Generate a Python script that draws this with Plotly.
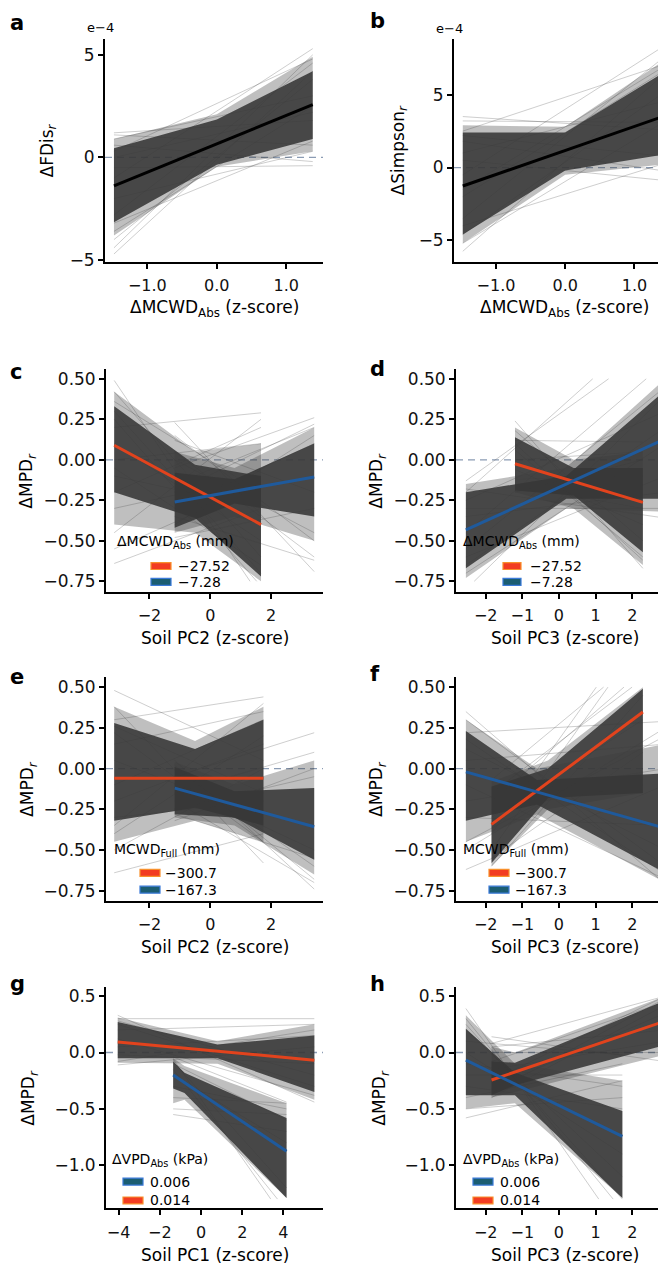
import plotly.graph_objects as go

W, H = 666, 1267
FONT = "DejaVu Sans"
RED = "#e2431d"
BLUE = "#1f5a9c"
BLACK = "#000000"

# ---------------- data ----------------
# Each group: line span (x), mean line ends (y), pivot x of the draw envelope,
# dense core (hi/lo at left, pivot, right), medium-density halo, light single draws.

# Panel a: dFDis_r (x 1e-4) vs dMCWD_Abs (z-score)
a_span = [-1.48, 1.38]
a_mean = [-1.38, 2.57]
a_xp = 0.0
a_core_hi = [0.45, 1.85, 4.2]
a_core_lo = [-3.15, -0.35, 0.9]
a_halo_hi = [0.9, 2.1, 4.9]
a_halo_lo = [-3.8, -0.45, 0.3]
a_draw_l = [1.2, 1.1, 0.9, 0.6, 0.3, -0.5, -1.0, -2.0, -2.8, -3.6, -4.0, -4.4, -4.7, -3.2, 0.0]
a_draw_r = [1.8, 0.6, 3.0, -0.2, 4.8, -0.4, 5.3, 0.3, 4.6, 2.5, 3.8, 5.0, 4.2, 0.8, 2.2]

# Panel b: dSimpson_r (x 1e-4) vs dMCWD_Abs (z-score)
b_span = [-1.48, 1.38]
b_mean = [-1.27, 3.45]
b_xp = 0.0
b_core_hi = [2.4, 2.4, 6.4]
b_core_lo = [-4.6, -0.2, 0.85]
b_halo_hi = [2.9, 2.8, 7.2]
b_halo_lo = [-5.2, -0.5, 0.2]
b_draw_l = [3.5, 3.2, 2.5, 1.8, 0.5, -0.5, -2.0, -3.5, -4.6, -5.2, -5.75, -4.0, 1.0, 2.2, -1.5]
b_draw_r = [2.6, 3.1, 7.0, -0.2, -0.86, 8.2, 6.5, 7.4, 5.0, 3.0, 6.2, 0.2, 4.5, 0.8, 6.8]

# Panel c: dMPD_r vs Soil PC2, dMCWD_Abs = -27.52 (red) / -7.28 (blue)
c_red_span = [-3.16, 1.67]
c_red_mean = [0.09, -0.40]
c_red_xp = -0.5
c_red_hi = [0.33, -0.03, -0.10]
c_red_lo = [-0.20, -0.36, -0.72]
c_red_halo_hi = [0.42, 0.05, 0.10]
c_red_halo_lo = [-0.40, -0.45, -0.75]
c_red_draw_l = [0.49, 0.42, 0.36, 0.30, 0.20, 0.10, 0.0, -0.10, -0.20, -0.30, -0.45, -0.55, -0.64, 0.25, -0.05]
c_red_draw_r = [-0.85, -0.60, -0.20, -0.70, 0.29, -0.50, 0.10, -0.30, 0.20, -0.10, 0.25, -0.15, -0.30, -0.78, -0.65]
c_blue_span = [-1.17, 3.42]
c_blue_mean = [-0.26, -0.106]
c_blue_xp = 0.8
c_blue_hi = [-0.08, -0.12, 0.10]
c_blue_lo = [-0.42, -0.27, -0.35]
c_blue_halo_hi = [0.05, -0.05, 0.20]
c_blue_halo_lo = [-0.45, -0.35, -0.50]
c_blue_draw_l = [0.23, 0.15, 0.05, -0.05, -0.15, -0.30, -0.40, -0.48, 0.0, -0.20, 0.12, -0.35]
c_blue_draw_r = [-0.69, -0.50, -0.60, 0.26, 0.20, 0.10, 0.15, -0.30, -0.45, 0.22, -0.20, -0.62]

# Panel d: dMPD_r vs Soil PC3, dMCWD_Abs
d_red_span = [-1.20, 2.29]
d_red_mean = [-0.024, -0.263]
d_red_xp = 0.4
d_red_hi = [0.14, -0.05, -0.05]
d_red_lo = [-0.19, -0.22, -0.57]
d_red_halo_hi = [0.20, 0.0, 0.05]
d_red_halo_lo = [-0.20, -0.30, -0.65]
d_red_draw_l = [0.24, 0.18, 0.12, 0.06, 0.0, -0.06, -0.12, -0.20, 0.10, -0.16]
d_red_draw_r = [-0.67, -0.50, 0.11, -0.60, 0.05, -0.40, -0.10, 0.0, -0.62, -0.30]
d_blue_span = [-2.54, 2.90]
d_blue_mean = [-0.433, 0.129]
d_blue_xp = 0.2
d_blue_hi = [-0.20, -0.10, 0.43]
d_blue_lo = [-0.67, -0.24, -0.24]
d_blue_halo_hi = [-0.15, -0.05, 0.50]
d_blue_halo_lo = [-0.73, -0.30, -0.32]
d_blue_draw_l = [-0.13, -0.18, -0.25, -0.35, -0.45, -0.55, -0.65, -0.80, -0.70, -0.30, -0.20, -0.60]
d_blue_draw_r = [0.75, -0.36, 0.30, -0.20, 0.60, 0.45, 0.20, 0.40, 0.10, -0.30, 0.90, -0.10]

# Panel e: dMPD_r vs Soil PC2, MCWD_Full = -300.7 (red) / -167.3 (blue)
e_red_span = [-3.16, 1.75]
e_red_mean = [-0.06, -0.06]
e_red_xp = -0.5
e_red_hi = [0.28, 0.12, 0.30]
e_red_lo = [-0.32, -0.24, -0.35]
e_red_halo_hi = [0.38, 0.17, 0.38]
e_red_halo_lo = [-0.45, -0.32, -0.45]
e_red_draw_l = [0.48, 0.38, 0.30, 0.22, 0.15, 0.05, -0.10, -0.20, -0.30, -0.40, -0.50, -0.64, 0.26, -0.35]
e_red_draw_r = [0.05, -0.58, 0.44, -0.45, 0.35, -0.30, 0.30, 0.15, -0.20, 0.20, 0.0, -0.40, -0.15, 0.40]
e_blue_span = [-1.17, 3.42]
e_blue_mean = [-0.12, -0.357]
e_blue_xp = 0.8
e_blue_hi = [0.01, -0.14, -0.12]
e_blue_lo = [-0.28, -0.30, -0.56]
e_blue_halo_hi = [0.04, -0.10, 0.05]
e_blue_halo_lo = [-0.30, -0.35, -0.65]
e_blue_draw_l = [0.05, 0.0, -0.05, -0.10, -0.15, -0.20, -0.25, -0.32, -0.28, 0.02]
e_blue_draw_r = [-0.74, -0.60, 0.22, -0.50, 0.10, -0.70, -0.05, 0.0, -0.55, -0.68]

# Panel f: dMPD_r vs Soil PC3, MCWD_Full
f_red_span = [-1.84, 2.29]
f_red_mean = [-0.343, 0.347]
f_red_xp = -0.3
f_red_hi = [-0.11, 0.0, 0.49]
f_red_lo = [-0.58, -0.18, -0.15]
f_red_halo_hi = [-0.08, 0.05, 0.50]
f_red_halo_lo = [-0.60, -0.25, -0.15]
f_red_draw_l = [-0.07, -0.12, -0.20, -0.30, -0.40, -0.50, -0.60, -0.55, -0.25, -0.15]
f_red_draw_r = [0.70, -0.15, 0.60, 0.30, 0.90, 0.80, 0.45, 0.10, -0.10, 0.55]
f_blue_span = [-2.54, 2.90]
f_blue_mean = [-0.02, -0.367]
f_blue_xp = -0.6
f_blue_hi = [0.23, -0.07, -0.03]
f_blue_lo = [-0.32, -0.22, -0.64]
f_blue_halo_hi = [0.30, 0.0, 0.15]
f_blue_halo_lo = [-0.45, -0.28, -0.70]
f_blue_draw_l = [0.35, 0.30, 0.22, 0.12, 0.05, -0.10, -0.20, -0.30, -0.45, -0.62, 0.18, -0.50]
f_blue_draw_r = [-0.71, -0.60, 0.29, -0.50, 0.15, -0.68, 0.0, -0.35, 0.20, -0.10, -0.65, 0.25]

# Panel g: dMPD_r vs Soil PC1, dVPD_Abs = 0.006 (blue) / 0.014 (red)
g_red_span = [-4.04, 5.50]
g_red_mean = [0.094, -0.068]
g_red_xp = 0.8
g_red_hi = [0.27, 0.07, 0.15]
g_red_lo = [-0.05, -0.05, -0.35]
g_red_halo_hi = [0.31, 0.10, 0.25]
g_red_halo_lo = [-0.09, -0.10, -0.42]
g_red_draw_l = [0.33, 0.30, 0.25, 0.20, 0.12, 0.05, -0.02, -0.08, -0.11, 0.28]
g_red_draw_r = [-0.44, 0.30, -0.30, 0.25, -0.38, 0.15, -0.10, 0.20, 0.05, -0.20]
g_blue_span = [-1.35, 4.15]
g_blue_mean = [-0.20, -0.876]
g_blue_xp = -0.8
g_blue_hi = [-0.08, -0.18, -0.58]
g_blue_lo = [-0.32, -0.36, -1.29]
g_blue_halo_hi = [-0.05, -0.12, -0.45]
g_blue_halo_lo = [-0.45, -0.42, -1.29]
g_blue_draw_l = [-0.04, -0.06, -0.10, -0.15, -0.20, -0.30, -0.40, -0.50, -0.55, -0.08]
g_blue_draw_r = [-0.44, -1.50, -0.60, -1.40, -0.80, -0.50, -0.45, -0.55, -0.70, -1.20]

# Panel h: dMPD_r vs Soil PC3, dVPD_Abs
h_red_span = [-1.84, 2.90]
h_red_mean = [-0.244, 0.279]
h_red_xp = -1.2
h_red_hi = [-0.08, -0.09, 0.46]
h_red_lo = [-0.38, -0.29, 0.065]
h_red_halo_hi = [0.05, 0.0, 0.50]
h_red_halo_lo = [-0.40, -0.35, -0.02]
h_red_draw_l = [0.14, 0.08, 0.0, -0.08, -0.15, -0.25, -0.32, -0.40, 0.05, -0.36]
h_red_draw_r = [-0.08, 0.50, 0.0, 0.45, 0.10, 0.50, 0.35, 0.42, 0.20, 0.48]
h_blue_span = [-2.54, 1.73]
h_blue_mean = [-0.068, -0.744]
h_blue_xp = -1.2
h_blue_hi = [0.21, -0.18, -0.52]
h_blue_lo = [-0.38, -0.38, -1.29]
h_blue_halo_hi = [0.33, -0.10, -0.25]
h_blue_halo_lo = [-0.50, -0.45, -1.29]
h_blue_draw_l = [0.39, 0.30, 0.20, 0.10, 0.0, -0.10, -0.20, -0.30, -0.40, -0.50, -0.58, 0.25]
h_blue_draw_r = [-1.60, -1.40, -1.10, -0.02, -0.90, -0.30, -0.20, -0.50, -0.10, -0.40, -0.25, -1.30]

# legend labels
leg_mcwd_abs = ["\u221227.52", "\u22127.28"]
leg_mcwd_full = ["\u2212300.7", "\u2212167.3"]
leg_vpd = ["0.006", "0.014"]

# ---------------- panel layout (pixel boxes) ----------------
M = "\u2212"
yt_mpd = [0.5, 0.25, 0.0, -0.25, -0.5, -0.75]
yt_mpd_txt = ["0.50", "0.25", "0.00", M + "0.25", M + "0.50", M + "0.75"]
yt_mpd2 = [0.5, 0.0, -0.5, -1.0]
yt_mpd2_txt = ["0.5", "0.0", M + "0.5", M + "1.0"]
xt_pc2 = [-2, 0, 2]
xt_pc2_txt = [M + "2", "0", "2"]
xt_pc3 = [-2, -1, 0, 1, 2, 3]
xt_pc3_txt = [M + "2", M + "1", "0", "1", "2", "3"]
xt_pc1 = [-4, -2, 0, 2, 4]
xt_pc1_txt = [M + "4", M + "2", "0", "2", "4"]
xt_z = [-1, 0, 1]
xt_z_txt = [M + "1.0", "0.0", "1.0"]

YT_MPD = "\u0394MPD<sub><i>r</i></sub>"
panels = [
    dict(letter="a", box=(97, 315, 30, 255), xr=[-1.609, 1.528], yr=[-5.10, 5.78],
         xt=xt_z, xtt=xt_z_txt, yt=[5, 0, -5], ytt=["5", "0", M + "5"],
         xtitle="\u0394MCWD<sub>Abs</sub> (z-score)", ytitle="\u0394FDis<sub><i>r</i></sub>",
         ytx=40, lim=None, expo=(93, 19), letpos=(0, 14)),
    dict(letter="b", box=(446, 666, 30, 255), xr=[-1.607, 1.572], yr=[-6.5, 8.84],
         xt=xt_z, xtt=xt_z_txt, yt=[5, 0, -5], ytt=["5", "0", M + "5"],
         xtitle="\u0394MCWD<sub>Abs</sub> (z-score)", ytitle="\u0394Simpson<sub><i>r</i></sub>",
         ytx=391, lim=None, expo=(441, 20), letpos=(360, 12)),
    dict(letter="c", box=(98, 315, 363, 587), xr=[-3.43, 3.71], yr=[-0.815, 0.558],
         xt=xt_pc2, xtt=xt_pc2_txt, yt=yt_mpd, ytt=yt_mpd_txt,
         xtitle="Soil PC2 (z-score)", ytitle=YT_MPD, ytx=20, lim=(-0.75, 0.5), letpos=(0, 366),
         leg=dict(title="\u0394MCWD<sub>Abs</sub> (mm)", tdx=9, tdy=-50, kx=(45, 65), ky=(-26, -10),
                  txx=70, items=[(RED, leg_mcwd_abs[0]), (BLUE, leg_mcwd_abs[1])])),
    dict(letter="d", box=(448, 666, 363, 587), xr=[-2.81, 3.14], yr=[-0.815, 0.558],
         xt=xt_pc3, xtt=xt_pc3_txt, yt=yt_mpd, ytt=yt_mpd_txt,
         xtitle="Soil PC3 (z-score)", ytitle=YT_MPD, ytx=370, lim=(-0.75, 0.5), letpos=(360, 363),
         leg=dict(title="\u0394MCWD<sub>Abs</sub> (mm)", tdx=5, tdy=-50, kx=(47, 65), ky=(-26, -10),
                  txx=72, items=[(RED, leg_mcwd_abs[0]), (BLUE, leg_mcwd_abs[1])])),
    dict(letter="e", box=(98, 315, 673, 898), xr=[-3.43, 3.71], yr=[-0.811, 0.561],
         xt=xt_pc2, xtt=xt_pc2_txt, yt=yt_mpd, ytt=yt_mpd_txt,
         xtitle="Soil PC2 (z-score)", ytitle=YT_MPD, ytx=21, lim=(-0.75, 0.5), letpos=(0, 673),
         leg=dict(title="MCWD<sub>Full</sub> (mm)", tdx=6, tdy=-51, kx=(34, 54), ky=(-28, -11),
                  txx=57, items=[(RED, leg_mcwd_full[0]), (BLUE, leg_mcwd_full[1])])),
    dict(letter="f", box=(448, 666, 673, 898), xr=[-2.81, 3.14], yr=[-0.811, 0.561],
         xt=xt_pc3, xtt=xt_pc3_txt, yt=yt_mpd, ytt=yt_mpd_txt,
         xtitle="Soil PC3 (z-score)", ytitle=YT_MPD, ytx=370, lim=(-0.75, 0.5), letpos=(360, 670),
         leg=dict(title="MCWD<sub>Full</sub> (mm)", tdx=5, tdy=-51, kx=(33, 53), ky=(-28, -11),
                  txx=57, items=[(RED, leg_mcwd_full[0]), (BLUE, leg_mcwd_full[1])])),
    dict(letter="g", box=(98, 315, 985, 1208), xr=[-4.61, 5.92], yr=[-1.383, 0.581],
         xt=xt_pc1, xtt=xt_pc1_txt, yt=yt_mpd2, ytt=yt_mpd2_txt,
         xtitle="Soil PC1 (z-score)", ytitle=YT_MPD, ytx=22, lim=(-1.3, 0.5), letpos=(0, 982),
         leg=dict(title="\u0394VPD<sub>Abs</sub> (kPa)", tdx=4, tdy=-49, kx=(17, 37), ky=(-27, -8),
                  txx=42, items=[(BLUE, leg_vpd[0]), (RED, leg_vpd[1])])),
    dict(letter="h", box=(448, 666, 985, 1208), xr=[-2.81, 3.14], yr=[-1.383, 0.581],
         xt=xt_pc3, xtt=xt_pc3_txt, yt=yt_mpd2, ytt=yt_mpd2_txt,
         xtitle="Soil PC3 (z-score)", ytitle=YT_MPD, ytx=373, lim=(-1.3, 0.5), letpos=(360, 982),
         leg=dict(title="\u0394VPD<sub>Abs</sub> (kPa)", tdx=5, tdy=-49, kx=(17, 37), ky=(-27, -8),
                  txx=42, items=[(BLUE, leg_vpd[0]), (RED, leg_vpd[1])])),
]

groups = [
    (0, a_span, a_mean, a_xp, a_core_hi, a_core_lo, a_halo_hi, a_halo_lo, a_draw_l, a_draw_r, BLACK),
    (1, b_span, b_mean, b_xp, b_core_hi, b_core_lo, b_halo_hi, b_halo_lo, b_draw_l, b_draw_r, BLACK),
    (2, c_red_span, c_red_mean, c_red_xp, c_red_hi, c_red_lo, c_red_halo_hi, c_red_halo_lo, c_red_draw_l, c_red_draw_r, RED),
    (2, c_blue_span, c_blue_mean, c_blue_xp, c_blue_hi, c_blue_lo, c_blue_halo_hi, c_blue_halo_lo, c_blue_draw_l, c_blue_draw_r, BLUE),
    (3, d_red_span, d_red_mean, d_red_xp, d_red_hi, d_red_lo, d_red_halo_hi, d_red_halo_lo, d_red_draw_l, d_red_draw_r, RED),
    (3, d_blue_span, d_blue_mean, d_blue_xp, d_blue_hi, d_blue_lo, d_blue_halo_hi, d_blue_halo_lo, d_blue_draw_l, d_blue_draw_r, BLUE),
    (4, e_red_span, e_red_mean, e_red_xp, e_red_hi, e_red_lo, e_red_halo_hi, e_red_halo_lo, e_red_draw_l, e_red_draw_r, RED),
    (4, e_blue_span, e_blue_mean, e_blue_xp, e_blue_hi, e_blue_lo, e_blue_halo_hi, e_blue_halo_lo, e_blue_draw_l, e_blue_draw_r, BLUE),
    (5, f_red_span, f_red_mean, f_red_xp, f_red_hi, f_red_lo, f_red_halo_hi, f_red_halo_lo, f_red_draw_l, f_red_draw_r, RED),
    (5, f_blue_span, f_blue_mean, f_blue_xp, f_blue_hi, f_blue_lo, f_blue_halo_hi, f_blue_halo_lo, f_blue_draw_l, f_blue_draw_r, BLUE),
    (6, g_red_span, g_red_mean, g_red_xp, g_red_hi, g_red_lo, g_red_halo_hi, g_red_halo_lo, g_red_draw_l, g_red_draw_r, RED),
    (6, g_blue_span, g_blue_mean, g_blue_xp, g_blue_hi, g_blue_lo, g_blue_halo_hi, g_blue_halo_lo, g_blue_draw_l, g_blue_draw_r, BLUE),
    (7, h_red_span, h_red_mean, h_red_xp, h_red_hi, h_red_lo, h_red_halo_hi, h_red_halo_lo, h_red_draw_l, h_red_draw_r, RED),
    (7, h_blue_span, h_blue_mean, h_blue_xp, h_blue_hi, h_blue_lo, h_blue_halo_hi, h_blue_halo_lo, h_blue_draw_l, h_blue_draw_r, BLUE),
]


def clip_seg(x0, y0, x1, y1, lim):
    if lim is None:
        return (x0, y0, x1, y1)
    lo, hi = lim
    dy = y1 - y0
    if dy == 0:
        return (x0, y0, x1, y1) if lo <= y0 <= hi else None
    ta, tb = (lo - y0) / dy, (hi - y0) / dy
    t0, t1 = max(0.0, min(ta, tb)), min(1.0, max(ta, tb))
    if t0 >= t1:
        return None
    return (x0 + t0 * (x1 - x0), y0 + t0 * dy, x0 + t1 * (x1 - x0), y0 + t1 * dy)


def px(x):
    return x / W


def py(y):
    return 1 - y / H


fig = go.Figure()
layout = dict(width=W, height=H, margin=dict(l=0, r=0, t=0, b=0),
              paper_bgcolor="white", plot_bgcolor="white", showlegend=False,
              font=dict(family=FONT, color="#000", size=14))
shapes, annotations = [], []

for i, p in enumerate(panels):
    n = "" if i == 0 else str(i + 1)
    x0p, x1p, y0p, y1p = p["box"]
    common = dict(showline=True, linecolor="black", linewidth=1.8, ticks="outside",
                  ticklen=5, tickwidth=1.5, tickcolor="black", showgrid=False, zeroline=False,
                  fixedrange=True)
    layout["xaxis" + n] = dict(domain=[px(x0p), px(x1p)], range=p["xr"], anchor="y" + n,
                               tickmode="array", tickvals=p["xt"], ticktext=p["xtt"],
                               tickfont=dict(family=FONT, size=16, color="#111"),
                               ticklabelstandoff=3, **common)
    layout["yaxis" + n] = dict(domain=[py(y1p), py(y0p)], range=p["yr"], anchor="x" + n,
                               tickmode="array", tickvals=p["yt"], ticktext=p["ytt"],
                               tickfont=dict(family=FONT, size=17, color="#111"), **common)
    shapes.append(dict(type="line", xref="x" + n + " domain", yref="y" + n, x0=0, x1=1, y0=0, y1=0,
                       line=dict(color="#8b9cb4", width=1.3, dash="7px,5px"), layer="below"))
    annotations.append(dict(text=p["xtitle"], x=px((x0p + x1p) / 2), y=py(y1p + 47), xref="paper",
                            yref="paper", showarrow=False, xanchor="center", yanchor="middle",
                            font=dict(size=17)))
    annotations.append(dict(text=p["ytitle"], x=px(p["ytx"]), y=py((y0p + y1p) / 2), xref="paper",
                            yref="paper", showarrow=False, textangle=-90, xanchor="center",
                            yanchor="middle", font=dict(size=17)))
    annotations.append(dict(text="<b>" + p["letter"] + "</b>", x=px(p["letpos"][0]), y=py(p["letpos"][1]),
                            xref="paper", yref="paper", showarrow=False, xanchor="left",
                            yanchor="middle", font=dict(size=21)))
    if "expo" in p:
        annotations.append(dict(text="e" + M + "4", x=px(p["expo"][0]), y=py(p["expo"][1]),
                                xref="paper", yref="paper", showarrow=False, xanchor="center",
                                yanchor="middle", font=dict(size=13)))
    if "leg" in p:
        lg = p["leg"]
        annotations.append(dict(text=lg["title"], x=px(x0p + lg["tdx"]), y=py(y1p + lg["tdy"]),
                                xref="paper", yref="paper", showarrow=False, xanchor="left",
                                yanchor="middle", font=dict(size=14)))
        for (col, lab), ky in zip(lg["items"], lg["ky"]):
            border = "#f8902c" if col == RED else "#3a7ad8"
            fill = "#f23c22" if col == RED else "#1b5d72"
            shapes.append(dict(type="rect", xref="paper", yref="paper",
                               x0=px(x0p + lg["kx"][0]), x1=px(x0p + lg["kx"][1]),
                               y0=py(y1p + ky - 3.5), y1=py(y1p + ky + 3.5),
                               fillcolor=fill, line=dict(color=border, width=1.2), layer="above"))
            annotations.append(dict(text=lab, x=px(x0p + lg["txx"]), y=py(y1p + ky), xref="paper",
                                    yref="paper", showarrow=False, xanchor="left", yanchor="middle",
                                    font=dict(size=14)))


def band(span, xp, hi, lo):
    return ([span[0], xp, span[1], span[1], xp, span[0], span[0]],
            [hi[0], hi[1], hi[2], lo[2], lo[1], lo[0], hi[0]])


# gray posterior draws: light single lines, medium halo, dense core
for (pi, span, mean, xp, hi, lo, hhi, hlo, dl, dr, col) in groups:
    n = "" if pi == 0 else str(pi + 1)
    lim = panels[pi]["lim"]
    xs, ys = [], []
    for yl, yr in zip(dl, dr):
        s = clip_seg(span[0], yl, span[1], yr, lim)
        if s:
            xs += [s[0], s[2], None]
            ys += [s[1], s[3], None]
    fig.add_trace(go.Scatter(x=xs, y=ys, mode="lines", xaxis="x" + n, yaxis="y" + n,
                             line=dict(color="rgba(60,60,60,0.25)", width=1), hoverinfo="skip"))
    hx, hy = band(span, xp, hhi, hlo)
    fig.add_trace(go.Scatter(x=hx, y=hy, mode="lines", fill="toself", xaxis="x" + n, yaxis="y" + n,
                             fillcolor="rgba(60,60,60,0.33)", line=dict(width=0), hoverinfo="skip"))
    cx, cy = band(span, xp, hi, lo)
    fig.add_trace(go.Scatter(x=cx, y=cy, mode="lines", fill="toself", xaxis="x" + n, yaxis="y" + n,
                             fillcolor="rgba(55,55,55,0.88)", line=dict(width=0), hoverinfo="skip"))

for (pi, span, mean, xp, hi, lo, hhi, hlo, dl, dr, col) in groups:
    n = "" if pi == 0 else str(pi + 1)
    fig.add_trace(go.Scatter(x=span, y=mean, mode="lines", xaxis="x" + n, yaxis="y" + n,
                             line=dict(color=col, width=3), hoverinfo="skip"))

layout["shapes"] = shapes
layout["annotations"] = annotations
fig.update_layout(**layout)
fig.write_html("out.html")
